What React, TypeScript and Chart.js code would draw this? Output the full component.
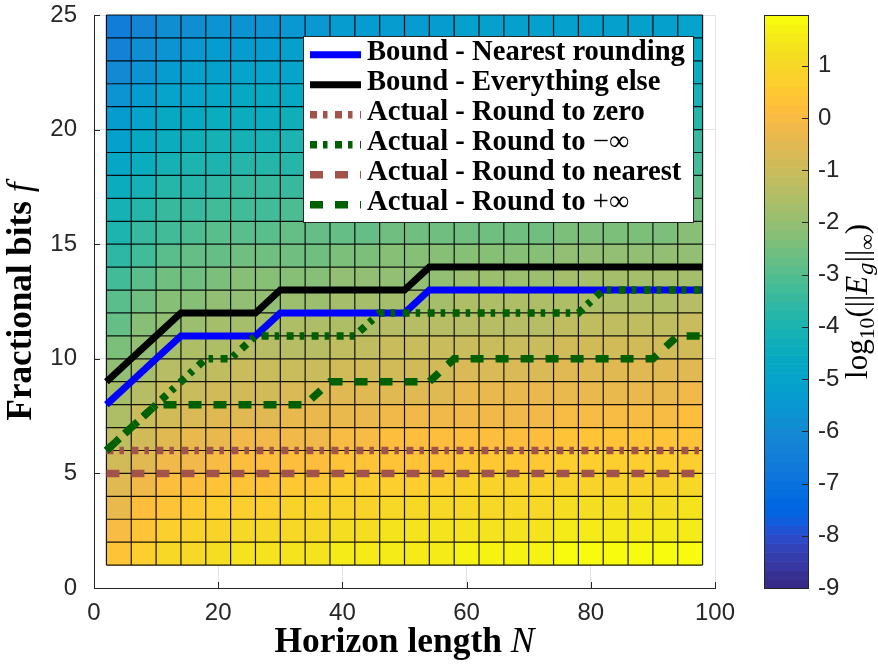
import React, { useEffect, useRef } from "react";
import { Chart, registerables } from "chart.js";

Chart.register(...registerables);

// pcolor grid (cell corners)
const horizonN = [2, 6, 10, 14, 18, 22, 26, 30, 34, 38, 42, 46, 50, 54, 58, 62, 66, 70, 74, 78, 82, 86, 90, 94, 98];
const fracBits = [1, 2, 3, 4, 5, 6, 7, 8, 9, 10, 11, 12, 13, 14, 15, 16, 17, 18, 19, 20, 21, 22, 23, 24, 25];

// log10(||E_g||_inf) per cell, rows f = 1..24 (bottom to top), columns N = 2..94
const logErr = [
  [0.3, 0.7, 1.0, 1.1, 1.2, 1.3, 1.3, 1.4, 1.4, 1.5, 1.5, 1.6, 1.6, 1.6, 1.7, 1.7, 1.7, 1.7, 1.8, 1.8, 1.8, 1.8, 1.8, 1.9],
  [0.0, 0.4, 0.7, 0.8, 0.9, 1.0, 1.0, 1.1, 1.1, 1.2, 1.2, 1.3, 1.3, 1.3, 1.4, 1.4, 1.4, 1.4, 1.5, 1.5, 1.5, 1.5, 1.5, 1.6],
  [-0.3, 0.1, 0.4, 0.5, 0.6, 0.7, 0.7, 0.8, 0.8, 0.9, 0.9, 1.0, 1.0, 1.0, 1.1, 1.1, 1.1, 1.1, 1.2, 1.2, 1.2, 1.2, 1.2, 1.3],
  [-0.6, -0.2, 0.1, 0.2, 0.3, 0.4, 0.4, 0.5, 0.5, 0.6, 0.6, 0.7, 0.7, 0.7, 0.8, 0.8, 0.8, 0.8, 0.9, 0.9, 0.9, 0.9, 0.9, 1.0],
  [-0.9, -0.5, -0.2, -0.1, 0.0, 0.1, 0.1, 0.2, 0.2, 0.3, 0.3, 0.4, 0.4, 0.4, 0.5, 0.5, 0.5, 0.5, 0.6, 0.6, 0.6, 0.6, 0.6, 0.7],
  [-1.2, -0.8, -0.5, -0.4, -0.3, -0.2, -0.2, -0.1, -0.1, 0.0, 0.0, 0.1, 0.1, 0.1, 0.2, 0.2, 0.2, 0.2, 0.3, 0.3, 0.3, 0.3, 0.3, 0.4],
  [-1.5, -1.1, -0.8, -0.7, -0.6, -0.5, -0.5, -0.4, -0.4, -0.3, -0.3, -0.2, -0.2, -0.2, -0.1, -0.1, -0.1, -0.1, 0.0, 0.0, 0.0, 0.0, 0.0, 0.1],
  [-1.8, -1.4, -1.1, -1.0, -0.9, -0.8, -0.8, -0.7, -0.7, -0.6, -0.6, -0.5, -0.5, -0.5, -0.4, -0.4, -0.4, -0.4, -0.3, -0.3, -0.3, -0.3, -0.3, -0.2],
  [-2.1, -1.7, -1.4, -1.3, -1.2, -1.1, -1.1, -1.0, -1.0, -0.9, -0.9, -0.8, -0.8, -0.8, -0.7, -0.7, -0.7, -0.7, -0.6, -0.6, -0.6, -0.6, -0.6, -0.5],
  [-2.4, -2.0, -1.7, -1.6, -1.5, -1.4, -1.4, -1.3, -1.3, -1.2, -1.2, -1.1, -1.1, -1.1, -1.0, -1.0, -1.0, -1.0, -0.9, -0.9, -0.9, -0.9, -0.9, -0.8],
  [-2.7, -2.3, -2.0, -1.9, -1.8, -1.7, -1.7, -1.6, -1.6, -1.5, -1.5, -1.4, -1.4, -1.4, -1.3, -1.3, -1.3, -1.3, -1.2, -1.2, -1.2, -1.2, -1.2, -1.1],
  [-3.0, -2.6, -2.3, -2.2, -2.1, -2.0, -2.0, -1.9, -1.9, -1.8, -1.8, -1.7, -1.7, -1.7, -1.6, -1.6, -1.6, -1.6, -1.5, -1.5, -1.5, -1.5, -1.5, -1.4],
  [-3.3, -2.9, -2.6, -2.5, -2.4, -2.3, -2.3, -2.2, -2.2, -2.1, -2.1, -2.0, -2.0, -2.0, -1.9, -1.9, -1.9, -1.9, -1.8, -1.8, -1.8, -1.8, -1.8, -1.7],
  [-3.6, -3.2, -2.9, -2.8, -2.7, -2.6, -2.6, -2.5, -2.5, -2.4, -2.4, -2.3, -2.3, -2.3, -2.2, -2.2, -2.2, -2.2, -2.1, -2.1, -2.1, -2.1, -2.1, -2.0],
  [-3.9, -3.5, -3.2, -3.1, -3.0, -2.9, -2.9, -2.8, -2.8, -2.7, -2.7, -2.6, -2.6, -2.6, -2.5, -2.5, -2.5, -2.5, -2.4, -2.4, -2.4, -2.4, -2.4, -2.3],
  [-4.2, -3.8, -3.5, -3.4, -3.3, -3.2, -3.2, -3.1, -3.1, -3.0, -3.0, -2.9, -2.9, -2.9, -2.8, -2.8, -2.8, -2.8, -2.7, -2.7, -2.7, -2.7, -2.7, -2.6],
  [-4.5, -4.1, -3.8, -3.7, -3.6, -3.5, -3.5, -3.4, -3.4, -3.3, -3.3, -3.2, -3.2, -3.2, -3.1, -3.1, -3.1, -3.1, -3.0, -3.0, -3.0, -3.0, -3.0, -2.9],
  [-4.8, -4.4, -4.1, -4.0, -3.9, -3.8, -3.8, -3.7, -3.7, -3.6, -3.6, -3.5, -3.5, -3.5, -3.4, -3.4, -3.4, -3.4, -3.3, -3.3, -3.3, -3.3, -3.3, -3.2],
  [-5.1, -4.7, -4.4, -4.3, -4.2, -4.1, -4.1, -4.0, -4.0, -3.9, -3.9, -3.8, -3.8, -3.8, -3.7, -3.7, -3.7, -3.7, -3.6, -3.6, -3.6, -3.6, -3.6, -3.5],
  [-5.4, -5.0, -4.7, -4.6, -4.5, -4.4, -4.4, -4.3, -4.3, -4.2, -4.2, -4.1, -4.1, -4.1, -4.0, -4.0, -4.0, -4.0, -3.9, -3.9, -3.9, -3.9, -3.9, -3.8],
  [-5.7, -5.3, -5.0, -4.9, -4.8, -4.7, -4.7, -4.6, -4.6, -4.5, -4.5, -4.4, -4.4, -4.4, -4.3, -4.3, -4.3, -4.3, -4.2, -4.2, -4.2, -4.2, -4.2, -4.1],
  [-6.0, -5.6, -5.3, -5.2, -5.1, -5.0, -5.0, -4.9, -4.9, -4.8, -4.8, -4.7, -4.7, -4.7, -4.6, -4.6, -4.6, -4.6, -4.5, -4.5, -4.5, -4.5, -4.5, -4.4],
  [-6.3, -5.9, -5.6, -5.5, -5.4, -5.3, -5.3, -5.2, -5.2, -5.1, -5.1, -5.0, -5.0, -5.0, -4.9, -4.9, -4.9, -4.9, -4.8, -4.8, -4.8, -4.8, -4.8, -4.7],
  [-6.6, -6.2, -5.9, -5.8, -5.7, -5.6, -5.6, -5.5, -5.5, -5.4, -5.4, -5.3, -5.3, -5.3, -5.2, -5.2, -5.2, -5.2, -5.1, -5.1, -5.1, -5.1, -5.1, -5.0],
];

// Line series (values at horizonN)
const boundNearest = [8, 9, 10, 11, 11, 11, 11, 12, 12, 12, 12, 12, 12, 13, 13, 13, 13, 13, 13, 13, 13, 13, 13, 13, 13];
const boundElse = [9, 10, 11, 12, 12, 12, 12, 13, 13, 13, 13, 13, 13, 14, 14, 14, 14, 14, 14, 14, 14, 14, 14, 14, 14];
const actualZero = [6, 6, 6, 6, 6, 6, 6, 6, 6, 6, 6, 6, 6, 6, 6, 6, 6, 6, 6, 6, 6, 6, 6, 6, 6];
const actualMinusInf = [6, 7, 8, 9, 10, 10, 11, 11, 11, 11, 11, 12, 12, 12, 12, 12, 12, 12, 12, 12, 13, 13, 13, 13, 13];
const actualNearest = [5, 5, 5, 5, 5, 5, 5, 5, 5, 5, 5, 5, 5, 5, 5, 5, 5, 5, 5, 5, 5, 5, 5, 5, 5];
const actualPlusInf = [6, 7, 8, 8, 8, 8, 8, 8, 8, 9, 9, 9, 9, 9, 10, 10, 10, 10, 10, 10, 10, 10, 10, 11, 11];

const seriesLabels = [
  "Bound - Nearest rounding",
  "Bound - Everything else",
  "Actual - Round to zero",
  "Actual - Round to \u2212\u221e",
  "Actual - Round to nearest",
  "Actual - Round to +\u221e",
];

const xTicks = [0, 20, 40, 60, 80, 100];
const yTicks = [0, 5, 10, 15, 20, 25];
const cbTicks = [-9, -8, -7, -6, -5, -4, -3, -2, -1, 0, 1];
const colorLimits = [-9, 1.97];

const parula64 = [
  [0.2081, 0.1663, 0.5292], [0.2116, 0.1898, 0.5777], [0.2123, 0.2138, 0.627], [0.2081, 0.2386, 0.6771],
  [0.1959, 0.2645, 0.7279], [0.1707, 0.2919, 0.7792], [0.1253, 0.3242, 0.8303], [0.0591, 0.3598, 0.8683],
  [0.0117, 0.3875, 0.882], [0.006, 0.4086, 0.8828], [0.0165, 0.4266, 0.8786], [0.0329, 0.443, 0.872],
  [0.0498, 0.4586, 0.8641], [0.0629, 0.4737, 0.8554], [0.0723, 0.4887, 0.8467], [0.0779, 0.504, 0.8384],
  [0.0793, 0.52, 0.8312], [0.0749, 0.5375, 0.8263], [0.0641, 0.557, 0.824], [0.0488, 0.5772, 0.8228],
  [0.0343, 0.5966, 0.8199], [0.0265, 0.6137, 0.8135], [0.0239, 0.6287, 0.8038], [0.0231, 0.6418, 0.7913],
  [0.0228, 0.6535, 0.7768], [0.0267, 0.6642, 0.7607], [0.0384, 0.6743, 0.7436], [0.059, 0.6838, 0.7254],
  [0.0843, 0.6928, 0.7062], [0.1133, 0.7015, 0.6859], [0.1453, 0.7098, 0.6646], [0.1801, 0.7177, 0.6424],
  [0.2178, 0.725, 0.6193], [0.2586, 0.7317, 0.5954], [0.3022, 0.7376, 0.5712], [0.3482, 0.7424, 0.5473],
  [0.3953, 0.7459, 0.5244], [0.442, 0.7481, 0.5033], [0.4871, 0.7491, 0.484], [0.53, 0.7491, 0.4661],
  [0.5709, 0.7485, 0.4494], [0.6099, 0.7473, 0.4337], [0.6473, 0.7456, 0.4188], [0.6834, 0.7435, 0.4044],
  [0.7184, 0.7411, 0.3905], [0.7525, 0.7384, 0.3768], [0.7858, 0.7356, 0.3633], [0.8185, 0.7327, 0.3498],
  [0.8507, 0.7299, 0.336], [0.8824, 0.7274, 0.3217], [0.9139, 0.7258, 0.3063], [0.945, 0.7261, 0.2886],
  [0.9739, 0.7314, 0.2666], [0.9938, 0.7455, 0.2403], [0.999, 0.7653, 0.2164], [0.9955, 0.7861, 0.1967],
  [0.988, 0.8066, 0.1794], [0.9789, 0.8271, 0.1633], [0.9697, 0.8481, 0.1475], [0.9626, 0.8705, 0.1309],
  [0.9589, 0.8949, 0.1132], [0.9598, 0.9218, 0.0948], [0.9661, 0.9514, 0.0755], [0.9763, 0.9831, 0.0538],
];

const SERIF = '"Liberation Serif", "Times New Roman", serif';
const MATHSERIF = '"DejaVu Serif", "Liberation Serif", serif';
const SANS = '"Liberation Sans", Arial, Helvetica, sans-serif';
const AXIS_DARK = "#262626";

function rgbOf(c: number[]) {
  return `rgb(${Math.round(c[0] * 255)},${Math.round(c[1] * 255)},${Math.round(c[2] * 255)})`;
}
function colorFor(v: number) {
  const [lo, hi] = colorLimits;
  let k = Math.floor(((v - lo) / (hi - lo)) * parula64.length);
  k = Math.max(0, Math.min(parula64.length - 1, k));
  return rgbOf(parula64[k]);
}

type Part = { t: string; bold?: boolean; italic?: boolean; scale?: number; dy?: number; family?: string };

function partFont(p: Part, size: number) {
  return `${p.italic ? "italic " : ""}${p.bold ? "bold " : ""}${(size * (p.scale ?? 1)).toFixed(2)}px ${p.family ?? SERIF}`;
}
function richWidth(ctx: CanvasRenderingContext2D, parts: Part[], size: number) {
  let w = 0;
  for (const p of parts) {
    ctx.font = partFont(p, size);
    w += ctx.measureText(p.t).width;
  }
  return w;
}
function drawRich(ctx: CanvasRenderingContext2D, parts: Part[], size: number, x: number, y: number) {
  let cx = x;
  ctx.textAlign = "left";
  ctx.textBaseline = "alphabetic";
  for (const p of parts) {
    ctx.font = partFont(p, size);
    ctx.fillText(p.t, cx, y + (p.dy ?? 0) * size);
    cx += ctx.measureText(p.t).width;
  }
}
function fitSize(ctx: CanvasRenderingContext2D, parts: Part[], target: number) {
  return (20 * target) / richWidth(ctx, parts, 20);
}
function labelParts(label: string): Part[] {
  const m = label.match(/^(.*?)([\u2212+]\u221e)$/);
  if (m) return [{ t: m[1], bold: true }, { t: m[2] }];
  return [{ t: label, bold: true }];
}

const overlayPlugin = {
  id: "overlay",
  afterDatasetDraw(chart: any, args: any) {
    if (args.index !== 0) return;
    const { ctx } = chart;
    const x = chart.scales.x;
    const y = chart.scales.y;
    const yTop = y.getPixelForValue(fracBits[fracBits.length - 1]);
    const yBot = y.getPixelForValue(fracBits[0]);
    const xL = x.getPixelForValue(horizonN[0]);
    const xR = x.getPixelForValue(horizonN[horizonN.length - 1]);
    ctx.save();
    ctx.strokeStyle = "rgba(0,0,0,0.9)";
    ctx.lineWidth = 1.2;
    ctx.beginPath();
    horizonN.forEach((n) => {
      const px = x.getPixelForValue(n);
      ctx.moveTo(px, yTop);
      ctx.lineTo(px, yBot);
    });
    fracBits.forEach((f) => {
      const py = y.getPixelForValue(f);
      ctx.moveTo(xL, py);
      ctx.lineTo(xR, py);
    });
    ctx.stroke();
    ctx.restore();
  },
  afterDatasetsDraw(chart: any) {
    const { ctx } = chart;
    const items = chart.data.datasets.slice(1);
    ctx.save();
    ctx.fillStyle = "#ffffff";
    ctx.fillRect(303.5, 36.5, 390, 186);
    ctx.strokeStyle = AXIS_DARK;
    ctx.lineWidth = 1;
    ctx.strokeRect(303.5, 36.5, 390, 186);
    const partsList = items.map((ds: any) => labelParts(ds.label));
    const size = fitSize(ctx, partsList[0], 318);
    items.forEach((ds: any, k: number) => {
      const cy = 54.7 + 30 * k;
      ctx.save();
      ctx.strokeStyle = ds.borderColor;
      ctx.lineWidth = ds.borderWidth;
      ctx.setLineDash(ds.borderDash || []);
      ctx.lineCap = "butt";
      ctx.beginPath();
      ctx.moveTo(310, cy);
      ctx.lineTo(361, cy);
      ctx.stroke();
      ctx.restore();
      ctx.fillStyle = "#000";
      drawRich(ctx, partsList[k], size, 367, cy + 5.7);
    });
    ctx.restore();
  },
  afterDraw(chart: any) {
    const { ctx, chartArea: area } = chart;
    const x = chart.scales.x;
    const y = chart.scales.y;
    const cb = chart.scales.cb;
    ctx.save();
    ctx.strokeStyle = AXIS_DARK;
    ctx.lineWidth = 1;
    ctx.beginPath();
    xTicks.forEach((v) => {
      const px = Math.round(x.getPixelForValue(v)) + 0.5;
      ctx.moveTo(px, area.bottom);
      ctx.lineTo(px, area.bottom - 6);
    });
    yTicks.forEach((v) => {
      const py = Math.round(y.getPixelForValue(v)) + 0.5;
      ctx.moveTo(area.left, py);
      ctx.lineTo(area.left + 6, py);
    });
    ctx.stroke();

    // colorbar
    const L = cb.left + 49;
    const R = cb.left + 93;
    const [lo, hi] = colorLimits;
    const n = parula64.length;
    for (let k = 0; k < n; k++) {
      const p0 = cb.getPixelForValue(lo + ((hi - lo) * k) / n);
      const p1 = cb.getPixelForValue(lo + ((hi - lo) * (k + 1)) / n);
      ctx.fillStyle = rgbOf(parula64[k]);
      ctx.fillRect(L, p1, R - L, p0 - p1 + 0.6);
    }
    const top = cb.getPixelForValue(hi);
    const bottom = cb.getPixelForValue(lo);
    ctx.strokeStyle = AXIS_DARK;
    ctx.lineWidth = 1;
    ctx.strokeRect(Math.round(L) + 0.5, Math.round(top) + 0.5, Math.round(R - L), Math.round(bottom - top));
    ctx.beginPath();
    cbTicks.forEach((v) => {
      const py = Math.round(cb.getPixelForValue(v)) + 0.5;
      ctx.moveTo(Math.round(R) + 0.5, py);
      ctx.lineTo(Math.round(R) - 6, py);
    });
    ctx.stroke();

    // colorbar label
    ctx.fillStyle = "#000";
    const cbParts: Part[] = [
      { t: "log" },
      { t: "10", scale: 0.7, dy: 0.24 },
      { t: "(||" },
      { t: "E", italic: true },
      { t: "g", italic: true, scale: 0.68, dy: 0.2, family: MATHSERIF },
      { t: "||" },
      { t: "\u221e", scale: 0.7, dy: 0.24 },
      { t: ")" },
    ];
    const cbSize = fitSize(ctx, cbParts, 155);
    const cbW = richWidth(ctx, cbParts, cbSize);
    ctx.save();
    ctx.translate(867, (top + bottom) / 2);
    ctx.rotate(-Math.PI / 2);
    drawRich(ctx, cbParts, cbSize, -cbW / 2, 0);
    ctx.restore();

    // x title
    const xParts: Part[] = [{ t: "Horizon length ", bold: true }, { t: "N", italic: true }];
    const xs = fitSize(ctx, xParts, 260);
    const xw = richWidth(ctx, xParts, xs);
    drawRich(ctx, xParts, xs, (area.left + area.right) / 2 - xw / 2, 652);

    // y title
    const yParts: Part[] = [{ t: "Fractional bits ", bold: true }, { t: "f", italic: true }];
    const ys = fitSize(ctx, yParts, 238);
    const yw = richWidth(ctx, yParts, ys);
    ctx.save();
    ctx.translate(31, (area.top + area.bottom) / 2);
    ctx.rotate(-Math.PI / 2);
    drawRich(ctx, yParts, ys, -yw / 2, 0);
    ctx.restore();

    ctx.restore();
  },
};

function buildConfig(): any {
  const heatData: any[] = [];
  const heatColors: string[] = [];
  for (let i = 0; i < fracBits.length - 1; i++) {
    for (let j = 0; j < horizonN.length - 1; j++) {
      heatData.push({ x: (horizonN[j] + horizonN[j + 1]) / 2, y: [fracBits[i], fracBits[i + 1]] });
      heatColors.push(colorFor(logErr[i][j]));
    }
  }
  const series = [boundNearest, boundElse, actualZero, actualMinusInf, actualNearest, actualPlusInf];
  const styles = [
    { color: "#0000ff", dash: [], width: 7 },
    { color: "#000000", dash: [], width: 7 },
    { color: "#a3544a", dash: [7, 6, 4.5, 7.5], width: 7.5 },
    { color: "#006000", dash: [7, 6, 4.5, 7.5], width: 7.5 },
    { color: "#a3544a", dash: [13, 12], width: 7.5 },
    { color: "#006000", dash: [13, 12], width: 7.5 },
  ];
  const lineSets = series.map((vals, k) => ({
    type: "line",
    label: seriesLabels[k],
    data: horizonN.map((n, i) => ({ x: n, y: vals[i] })),
    borderColor: styles[k].color,
    backgroundColor: styles[k].color,
    borderWidth: styles[k].width,
    borderDash: styles[k].dash,
    borderCapStyle: "butt",
    borderJoinStyle: "miter",
    pointRadius: 0,
    tension: 0,
    fill: false,
    order: 6 - k,
  }));

  const tickFont = { family: SANS, size: 24 };
  return {
    type: "bar",
    data: {
      datasets: [
        {
          type: "bar",
          label: "heat",
          data: heatData,
          backgroundColor: heatColors,
          borderWidth: 0,
          inflateAmount: 0.4,
          barPercentage: 1,
          categoryPercentage: 1,
          order: 100,
        },
        ...lineSets,
      ],
    },
    options: {
      responsive: false,
      animation: false,
      events: [],
      layout: { padding: { top: 15, left: 0, right: 0, bottom: 0 } },
      plugins: { legend: { display: false }, tooltip: { enabled: false } },
      scales: {
        x: {
          type: "linear",
          min: 0,
          max: 100,
          offset: false,
          grid: { offset: false, color: "#e3e3e3", drawTicks: false },
          border: { color: AXIS_DARK, width: 1 },
          ticks: { font: tickFont, color: AXIS_DARK, padding: 11, maxRotation: 0 },
          afterBuildTicks: (s: any) => {
            s.ticks = xTicks.map((v) => ({ value: v }));
          },
          afterFit: (s: any) => {
            s.height = 80;
            s.paddingLeft = 0;
            s.paddingRight = 0;
          },
        },
        y: {
          type: "linear",
          min: 0,
          max: 25,
          grid: { color: "#e3e3e3", drawTicks: false },
          border: { color: AXIS_DARK, width: 1 },
          ticks: { font: tickFont, color: AXIS_DARK, padding: 17 },
          afterBuildTicks: (s: any) => {
            s.ticks = yTicks.map((v) => ({ value: v }));
          },
          afterFit: (s: any) => {
            s.width = 94;
            s.paddingTop = 0;
            s.paddingBottom = 0;
          },
        },
        cb: {
          type: "linear",
          position: "right",
          min: colorLimits[0],
          max: colorLimits[1],
          grid: { display: false, drawOnChartArea: false, drawTicks: false },
          border: { display: false },
          ticks: { font: tickFont, color: AXIS_DARK, padding: 103 },
          afterBuildTicks: (s: any) => {
            s.ticks = cbTicks.map((v) => ({ value: v }));
          },
          afterFit: (s: any) => {
            s.width = 163;
            s.paddingTop = 0;
            s.paddingBottom = 0;
          },
        },
      },
    },
    plugins: [overlayPlugin],
  };
}

export default function App() {
  const ref = useRef<HTMLCanvasElement>(null);
  useEffect(() => {
    const canvas = ref.current;
    if (!canvas) return;
    const chart = new Chart(canvas, buildConfig());
    return () => chart.destroy();
  }, []);
  return (
    <div style={{ position: "fixed", left: 0, top: 0, width: 878, height: 668, background: "#ffffff" }}>
      <canvas ref={ref} width={878} height={668} style={{ width: 878, height: 668, display: "block" }} />
    </div>
  );
}
